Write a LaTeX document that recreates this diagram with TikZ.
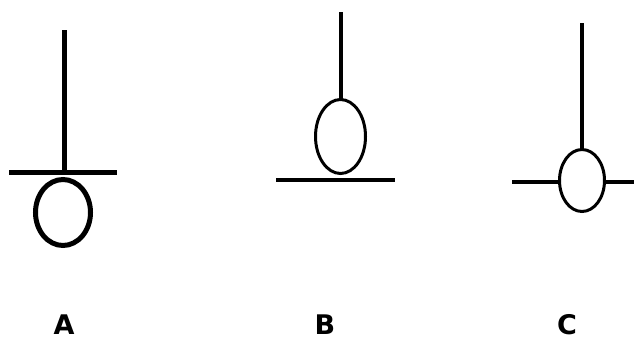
\documentclass[tikz,border=0pt]{standalone}
\usepackage{fontspec}
\setsansfont{DejaVu Sans}
\usetikzlibrary{shapes.geometric, positioning}

\begin{document}
\begin{tikzpicture}[x=1pt, y=-1pt,
  stem/.style={line width=4pt},
  bar/.style={line width=4pt},
  bulb/.style={ellipse, draw, line width=3pt, inner sep=0pt, outer sep=0pt},
  tag/.style={font=\fontsize{27}{27}\selectfont\sffamily\bfseries, inner sep=0pt}
]
\useasboundingbox (0,0) rectangle (634,340);

% Case A
\coordinate (topA) at (64,30);
\coordinate (barAl) at (9,172);
\coordinate (barAr) at (117,172);
\node[bulb, line width=5pt, minimum width=55pt, minimum height=66pt] (loopA) at (63,212.5) {};
\draw[stem, line width=5pt] (topA) -- (topA |- barAl);
\draw[bar, line width=5pt] (barAl) -- (barAr);

% Case B
\coordinate (topB) at (340.5,12);
\coordinate (barBl) at (276,180);
\coordinate (barBr) at (395,180);
\node[bulb, minimum width=50pt, minimum height=74pt] (loopB) at (340.5,136.5) {};
\draw[stem] (topB) -- (loopB.north);
\draw[bar] (barBl) -- (barBr);

% Case C
\coordinate (topC) at (582,23);
\coordinate (barCl) at (512,182);
\coordinate (barCr) at (634,182);
\node[bulb, minimum width=45pt, minimum height=62pt] (loopC) at (582,180.5) {};
\draw[stem] (topC) -- (loopC.north);
\draw[bar] (barCl) -- (barCl -| loopC.west);
\draw[bar] (barCr -| loopC.east) -- (barCr);

% Labels
\node[tag] (labA) at (64,325) {A};
\node[tag] (labB) at (325,325) {B};
\node[tag] (labC) at (567,325) {C};

\end{tikzpicture}
\end{document}
